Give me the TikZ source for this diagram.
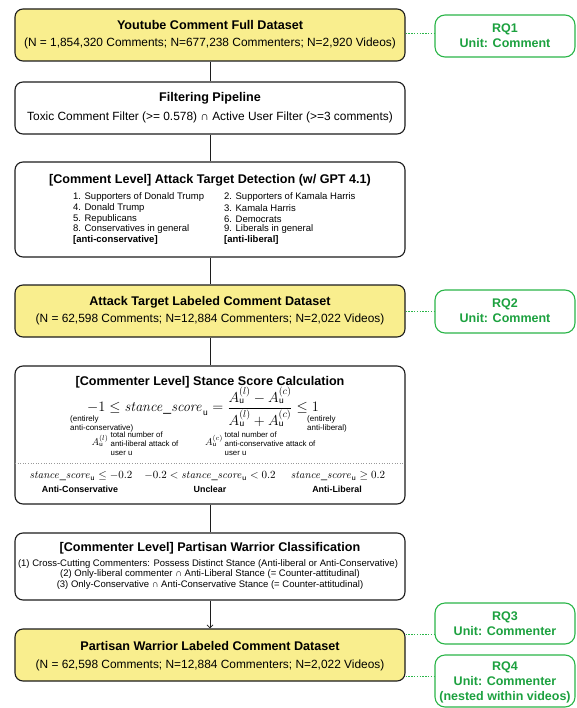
\documentclass[tikz,border=0pt]{standalone}
\usepackage{amsmath}
\usepackage[no-math]{fontspec}
\setmainfont{Liberation Sans}
\usetikzlibrary{arrows.meta}
\definecolor{ylw}{HTML}{F9EE8E}
\definecolor{grn}{HTML}{2AB548}
\definecolor{grntxt}{HTML}{1CA13F}
\definecolor{edge}{HTML}{1C1C1C}
\tikzset{
  mainbox/.style={draw=edge, line width=1.1pt, rounded corners=8pt, minimum width=390pt, inner sep=0pt},
  ybox/.style={mainbox, fill=ylw},
  wbox/.style={mainbox, fill=white},
  rqbox/.style={draw=grn, line width=1.1pt, rounded corners=10pt, minimum width=140pt, inner sep=0pt, fill=white},
  ttl/.style={font=\fontsize{12.6}{14}\selectfont\bfseries, inner sep=0pt},
  subt/.style={font=\fontsize{11.9}{14}\selectfont, inner sep=0pt},
  lst/.style={font=\fontsize{9.5}{11}\selectfont, inner sep=0pt, anchor=west},
  lstb/.style={font=\fontsize{9.5}{11}\selectfont\bfseries, inner sep=0pt, anchor=west},
  row/.style={font=\fontsize{9.5}{11}\selectfont, inner sep=0pt},
  rqtxt/.style={font=\fontsize{12.5}{15}\selectfont\bfseries, text=grntxt, align=center, inner sep=0pt},
  link/.style={draw=edge, line width=0.8pt},
  dots/.style={draw=grn, line width=1pt, dash pattern=on 1.4pt off 1.4pt},
  tiny/.style={font=\fontsize{8}{8.5}\selectfont, align=left, inner sep=0pt, anchor=west},
  note/.style={font=\fontsize{7.8}{9}\selectfont, align=left, inner sep=0pt, anchor=west},
  sym/.style={font=\fontsize{10}{12}\selectfont, inner sep=0pt},
  cond/.style={font=\fontsize{11}{13}\selectfont, inner sep=0pt},
  lab/.style={font=\fontsize{8.9}{10}\selectfont\bfseries, inner sep=0pt},
}
\begin{document}
\begin{tikzpicture}[x=1pt,y=-1pt]
\useasboundingbox (0,0) rectangle (576,708);

% main boxes
\node[ybox, minimum height=52pt] (b1) at (210,35) {};
\node[wbox, minimum height=52pt] (b2) at (210,108) {};
\node[wbox, minimum height=95pt] (b3) at (210,209.5) {};
\node[ybox, minimum height=52pt] (b4) at (210,311) {};
\node[wbox, minimum height=138pt] (b5) at (210,435) {};
\node[wbox, minimum height=67pt] (b6) at (210,566.5) {};
\node[ybox, minimum height=52pt] (b7) at (210,655) {};

% connectors
\draw[link] (b1) -- (b2);
\draw[link] (b2) -- (b3);
\draw[link] (b3) -- (b4);
\draw[link] (b4) -- (b5);
\draw[link] (b5) -- (b6);
\draw[link, -{Straight Barb[length=3pt,width=6pt]}] (b6) -- (b7);

% box 1
\node[ttl] (b1t) at (210,25) {Youtube Comment Full Dataset};
\node[subt] (b1s) at (210,43) {(N = 1,854,320 Comments; N=677,238 Commenters; N=2,920 Videos)};

% box 2
\node[ttl] (b2t) at (210,98) {Filtering Pipeline};
\node[subt] (b2s) at (210,117) {Toxic Comment Filter (>= 0.578) ∩ Active User Filter (>=3 comments)};

% box 3
\node[ttl] (b3t) at (210,180) {[Comment Level] Attack Target Detection (w/ GPT 4.1)};
\node[lst] (l1) at (73,197) {1. Supporters of Donald Trump};
\node[lst] (l2) at (73,208) {4. Donald Trump};
\node[lst] (l3) at (73,219) {5. Republicans};
\node[lst] (l4) at (73,229.5) {8. Conservatives in general};
\node[lstb] (l5) at (73,240) {[anti-conservative]};
\node[lst] (r1) at (224,197) {2. Supporters of Kamala Harris};
\node[lst] (r2) at (224,208) {3. Kamala Harris};
\node[lst] (r3) at (224,219) {6. Democrats};
\node[lst] (r4) at (224,229.5) {9. Liberals in general};
\node[lstb] (r5) at (224,240) {[anti-liberal]};

% box 4
\node[ttl] (b4t) at (210,302) {Attack Target Labeled Comment Dataset};
\node[subt] (b4s) at (210,319) {(N = 62,598 Comments; N=12,884 Commenters; N=2,022 Videos)};

% box 5
\node[ttl] (b5t) at (210,382) {[Commenter Level] Stance Score Calculation};
\node[font=\fontsize{14}{16}\selectfont, inner sep=0pt] (f) at (203,407)
  {$-1 \le \mathit{stance\_score}_{\mathsf{u}} = \dfrac{A_{\mathsf{u}}^{(l)} - A_{\mathsf{u}}^{(c)}}{A_{\mathsf{u}}^{(l)} + A_{\mathsf{u}}^{(c)}} \le 1$};
\node[tiny] (e1) at (70,424) {(entirely\\anti-conservative)};
\node[tiny] (e2) at (307,424) {(entirely\\anti-liberal)};
\node[sym] (al) at (100,441) {$A_{\mathsf{u}}^{(l)}$};
\node[note] (alt) at (110.5,443.5) {total number of\\anti-liberal attack of\\user u};
\node[sym] (ac) at (214,441) {$A_{\mathsf{u}}^{(c)}$};
\node[note] (act) at (224.5,443.5) {total number of\\anti-conservative attack of\\user u};
\coordinate (dl) at (15,463);
\coordinate (dr) at (405,463);
\draw[draw=gray!80, line width=0.6pt, dotted] (dl) -- (dr);
\node[cond] (c1) at (81,476) {$\mathit{stance\_score}_{\mathsf{u}} \le -0.2$};
\node[cond] (c2) at (210,476) {$-0.2 < \mathit{stance\_score}_{\mathsf{u}} < 0.2$};
\node[cond] (c3) at (338,476) {$\mathit{stance\_score}_{\mathsf{u}} \ge 0.2$};
\node[lab] (k1) at (80,489.5) {Anti-Conservative};
\node[lab] (k2) at (210,489.5) {Unclear};
\node[lab] (k3) at (337,489.5) {Anti-Liberal};

% box 6
\node[ttl] (b6t) at (210,548) {[Commenter Level] Partisan Warrior Classification};
\node[row] (p1) at (208,564) {(1) Cross-Cutting Commenters: Possess Distinct Stance (Anti-liberal or Anti-Conservative)};
\node[row] (p2) at (210,574.5) {(2) Only-liberal commenter ∩ Anti-Liberal Stance (= Counter-attitudinal)};
\node[row] (p3) at (210,585) {(3) Only-Conservative ∩ Anti-Conservative Stance (= Counter-attitudinal)};

% box 7
\node[ttl] (b7t) at (210,646) {Partisan Warrior Labeled Comment Dataset};
\node[subt] (b7s) at (210,665) {(N = 62,598 Comments; N=12,884 Commenters; N=2,022 Videos)};

% RQ boxes
\node[rqbox, minimum height=42pt] (rq1) at (505,36) {};
\node[rqtxt] (rq1t) at (505,35.5) {RQ1\\Unit: Comment};
\node[rqbox, minimum height=43pt] (rq2) at (505,311.5) {};
\node[rqtxt] (rq2t) at (505,311) {RQ2\\Unit: Comment};
\node[rqbox, minimum height=41pt] (rq3) at (505,623.5) {};
\node[rqtxt] (rq3t) at (505,623.5) {RQ3\\Unit: Commenter};
\node[rqbox, minimum height=52pt] (rq4) at (505,681) {};
\node[rqtxt] (rq4t) at (505,682) {RQ4\\Unit: Commenter\\(nested within videos)};

% dotted links
\coordinate (q1) at ([yshift=-25pt]b1.north east);
\draw[dots] (q1) -- (q1 -| rq1.west);
\coordinate (q2) at ([yshift=-27pt]b4.north east);
\draw[dots] (q2) -- (q2 -| rq2.west);
\coordinate (q3) at ([yshift=-6pt]b7.north east);
\draw[dots] (q3) -- (q3 -| rq3.west);
\coordinate (q4) at ([yshift=5pt]b7.south east);
\draw[dots] (q4) -- (q4 -| rq4.west);
\end{tikzpicture}
\end{document}
